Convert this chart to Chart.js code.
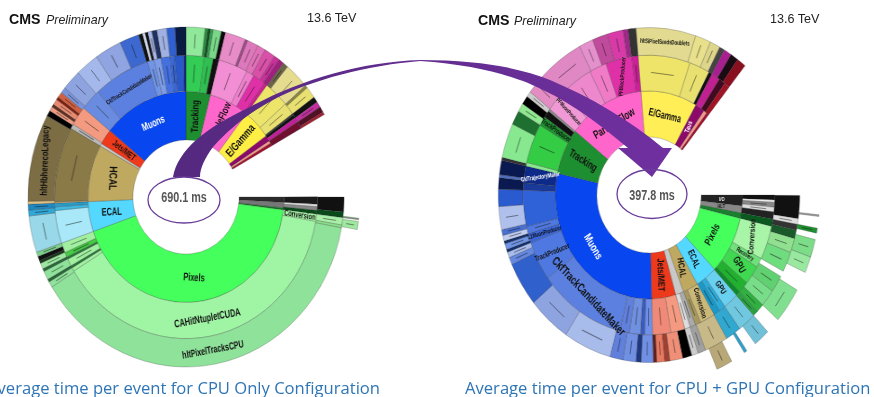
<!doctype html>
<html>
<head>
<meta charset="utf-8">
<title>CMS HLT timing</title>
<script src="https://cdn.jsdelivr.net/npm/chart.js@4"></script>
<style>
  html, body { margin:0; padding:0; background:#fff; width:874px; height:397px; overflow:hidden; }
  canvas { position:absolute; top:0; filter:blur(.45px); }
  #cpu { left:-14px; top:-3px; transform:scaleX(.93); }
  #gpu { left:449px; top:-5px; transform:scaleX(.9); }
  svg { position:absolute; left:0; top:0; }
  .cms { font:bold 14.2px "Liberation Sans"; fill:#111; }
  .prelim { font:italic 12.4px "Liberation Sans"; fill:#222; }
  .tev { font:12.6px "Liberation Sans"; fill:#222; }
  .total { font:bold 15px "Liberation Sans"; fill:#555; text-anchor:middle; }
  .caption { font:16.6px "Open Sans"; fill:#2e75b6; }
</style>
</head>
<body>
<canvas id="cpu" width="400" height="400"></canvas>
<canvas id="gpu" width="400" height="400"></canvas>
<svg width="874" height="397">
  <defs>
    <linearGradient id="arrowFill" x1="0" x2="1" y1="0" y2="0">
      <stop offset="0" stop-color="#55297f"/>
      <stop offset="1" stop-color="#7030a0"/>
    </linearGradient>
  </defs>
  <!-- annotation arrow between the two totals -->
  <path fill="url(#arrowFill)" d="M173,177 C178,150 205,128 250,107 C300,80 360,62 420,60 C480,60 520,68 550,80 C590,97 630,120 663,148 L672,148 L652,177 L618,148 L628,148 C600,125 575,105 543,90 C520,78 480,65 420,61 C370,65 310,80 273,100 C250,112 230,128 213,147 C205,158 200,168 200,177 Z"/>
  <ellipse cx="184" cy="200" rx="36" ry="23" fill="none" stroke="#6a3d9a" stroke-width="1.3"/>
  <ellipse cx="652" cy="194" rx="35" ry="24.5" fill="none" stroke="#6a3d9a" stroke-width="1.3"/>
  <text class="total" transform="translate(184,202) scale(.72,1)">690.1 ms</text>
  <text class="total" transform="translate(652,200) scale(.72,1)">397.8 ms</text>
  <text class="cms" x="9" y="24">CMS</text>
  <text class="prelim" x="46" y="24">Preliminary</text>
  <text class="tev" x="307" y="22">13.6 TeV</text>
  <text class="cms" x="478" y="25">CMS</text>
  <text class="prelim" x="514" y="25">Preliminary</text>
  <text class="tev" x="770" y="23">13.6 TeV</text>
  <text class="caption" x="380" y="394" text-anchor="end">Average time per event for CPU Only Configuration</text>
  <text class="caption" x="465" y="394">Average time per event for CPU + GPU Configuration</text>
</svg>
<script>
const GAP = 'transparent';

// CPU only, ms per module group, clockwise from 12 o'clock. Ring 1 is the innermost.
const cpuRing1 = [27.8,45.0,32.0,6.3,2.9,2.9,55.6,5.8,5.8,1.9,295.2,31.6,60.4,2.9,16.3,97.8];
const cpuRing1Colors = ['#1e8f30','#ff66cc','#ffee44','#8b0a6a','#f49a8a','#a01030',GAP,'#2a2a2a','#777777','#1a7a2a','#44ff5c','#55d8ff','#bfa860','#c8c8c8','#ee3a1c','#0846f0'];

const cpuRing2 = [15.3,7.7,4.8,24.9,6.7,10.5,2.9,21.1,9.6,1.3,2.5,3.8,5.8,55.6,5.8,1.9,2.9,2.9,5.8,265.5,2.9,1.9,5.8,1.9,3.8,7.7,25.9,2.9,2.9,1.0,59.4,3.8,15.3,17.3,47.9,5.8,5.8,7.7,3.8,7.7,1.9];
const cpuRing2Colors = ['#33cc55','#2fbf50','#111111','#f28fd4','#ee7fcc','#e030a8','#cc2090','#ede56a','#e8e070','#333333','#111111','#c0209a','#701030',GAP,'#1a1a1a','#dddddd','#888888','#0a4a1a','#a8f5a8','#a0f5a5','#a0f0a0','#2a7a3a','#a0f0a0','#2a7a3a','#44cc44','#a0f0a0','#a8e8f8','#40b8e0','#2a9cc8','#d0b070','#8a7a48','#b8b8b8','#f49a80','#6a8ce0','#5c80e0','#7094e6','#7c9ce8','#4470e0','#3868d8','#2a58c8','#0e2a80'];

const cpuRing3 = [13.4,1.9,1.9,1.9,5.8,2.9,14.4,1.9,7.7,5.8,7.7,3.8,3.8,3.8,17.3,1.9,7.7,3.8,3.8,3.8,1.9,55.6,9.6,3.8,4.8,1.9,263.6,3.8,1.9,5.8,1.9,3.8,1.9,2.9,2.9,24.0,3.8,3.8,1.9,57.5,3.8,2.9,1.9,3.8,1.9,3.8,3.8,13.4,16.5,18.8,13.8,2.7,1.9,1.9,2.9,3.6,6.9,5.8,7.7];
const cpuRing3Colors = ['#90e89a','#2a9040','#0e5020','#3aa050','#78d888','#0a0a0a','#e88cc8','#a04a88','#de78bc','#e070b8','#d850a8','#c8309a','#a02080','#6a6448','#e5dc90','#8a8440','#e8e070','#111111','#c030a0','#501025','#a02030',GAP,'#111111','#0a4a1a','#a8f0a8','#88dd88','#8fe29a','#8fe29a','#2a6a3a','#8fe29a','#2a6a3a','#9ce8a0','#1a3a1a','#111111','#7cd08c','#98d8e8','#30a8d8','#2088c0','#e0c080','#7d6d45','#000000','#f09a80','#603020','#e88a70','#802010','#d06040','#7a94dc','#8ea4e0','#a4b8ec','#8fa4e0','#3c68d0','#111111','#cfd8f0','#111111','#aab8e8','#203060','#a0b0e0','#3060d0','#0a1a40'];

const cpuRing4 = [185.0,1.0,1.0,4.8,498.4];
const cpuRing4Colors = [GAP,'#7a9c7a',GAP,'#9fe89f',GAP];

// CPU + GPU, ms per module group, clockwise from E/Gamma
const gpuRing1 = [38.7,6.6,2.2,1.7,55.8,6.6,4.4,3.3,36.1,14.7,10.5,5.5,16.5,114.5,28.7,51.9];
const gpuRing1Colors = ['#ffee55','#8b0a6a','#f49a8a','#a01030',GAP,'#222222','#888888','#1a8030','#44ff5c','#55d8ff','#bfa860','#c8c8c8','#ee3a1c','#0846f0','#1e8f30','#ff66cc'];

const gpuRing2 = [26.5,10.5,1.7,4.4,3.3,2.8,55.8,2.2,1.1,2.2,2.2,3.3,3.3,15.5,4.4,8.8,5.5,2.2,7.7,3.3,3.3,7.7,2.8,2.8,2.8,7.2,9.3,4.0,2.2,5.5,4.9,44.4,18.1,4.4,3.3,16.6,3.3,7.7,1.7,18.2,4.4,3.3,1.1,11.1,15.5,8.8,13.3,3.3];
const gpuRing2Colors = ['#eee46a','#e8e070','#111111','#c02090','#400a20','#a01525',GAP,'#111111','#eeeeee','#888888','#dddddd','#222222','#0a5a20','#a8f5a8','#6fe07a','#40d850','#22b030','#0f8a2a','#6ad0f0','#2eaad8','#1a98c8','#c9b878','#a89860','#aaaaaa','#dddddd','#f49a80','#f08a78','#6e90e8','#3a5cc0','#7090e0','#6080dc','#5c80e0','#4f78e0','#3a66d8','#4f78e0','#2f62d8','#1a3a9a','#0e2a88','#88e890','#33cc44','#1e9030','#111111','#888888','#f099d4','#ee88cc','#f07cc8','#e030a8','#cc2098'];

const gpuRing3 = [25.4,6.6,4.4,2.2,3.3,3.3,3.9,55.8,8.8,2.2,2.2,3.3,5.5,7.7,2.2,6.6,6.6,3.3,2.2,7.7,6.6,9.9,3.3,2.8,3.9,5.5,2.2,3.3,1.5,5.1,2.2,5.5,5.5,20.4,18.2,17.1,2.8,2.2,1.1,2.2,1.1,2.2,2.2,8.8,6.6,4.4,1.1,5.5,1.1,13.3,5.5,3.3,3.3,2.2,7.7,19.4,6.0,6.6,6.6,2.2,3.3];
const gpuRing3Colors = ['#e2da90','#e8e08a','#ddd58a','#444444','#a82090','#1a0a12','#8a1020',GAP,'#111111','#dddddd','#333333','#1a5a2a','#90e090','#70dc80',GAP,'#60d070','#78dd88','#30b040','#2aa040','#70c8e0','#30a8d0','#c8ba88','#a0a0a0','#cccccc','#000000','#ef8f78','#a04030','#e87860','#602020','#7090e4','#203880','#7090e4','#6080dc','#a8bcec','#8ea4e0','#3060cc','#6488e0','#a8bcec','#14306c','#7094e6','#14306c','#c0ccf0','#4a70d0','#b0c0ec','#2a5ad0','#0a1a50','#5070c0','#0a1a50','#333333','#88e890','#1e7030','#90e890','#000000','#cccccc','#e48cc4','#e088c4','#e490cc','#c04a9c','#d83aa8','#a02888','#333333'];

const gpuRing4 = [111.6,0.6,3.9,1.7,2.2,6.1,5.5,6.6,12.2,5.5,6.1,3.9,1.1,5.5,6.1,219.3];
const gpuRing4Colors = [GAP,'#999999',GAP,'#1e9030',GAP,'#7cdc88','#98e8a0',GAP,'#80e090',GAP,'#70c0d8',GAP,'#30a0c8',GAP,'#b8a878',GAP];

// sector captions: ring, sector index in that ring, text, rotation in degrees, size, colour
const cpuLabels = [
  [1,15,'Muons',-22,11,'#fff'], [1,0,'Tracking',-88,11,'#111'], [1,1,'ParticleFlow',-65,11,'#111'],
  [1,2,'E/Gamma',-47,12,'#111'], [1,14,'Jets/MET',36,9,'#111'], [1,12,'HCAL',92,12,'#111'],
  [1,11,'ECAL',-3,11,'#111'], [1,10,'Pixels',3,11,'#111'],
  [2,19,'CAHitNtupletCUDA',-10,11,'#111'], [2,18,'Conversion',8,8.5,'#111'], [2,34,'CkfTrackCandidateMaker',-30,6.5,'#111'],
  [3,26,'hltPixelTracksCPU',-10,10.5,'#111'], [3,39,'hltHbherecoLegacy',-88,10.5,'#111']
];
const gpuLabels = [
  [1,13,'Muons',58,12,'#fff'], [1,14,'Tracking',30,11.5,'#111'], [1,15,'ParticleFlow',-30,12,'#111'],
  [1,0,'E/Gamma',12,11,'#111'], [1,1,'Taus',-70,7.5,'#fff'], [1,12,'Jets/MET',88,10.5,'#111'],
  [1,10,'HCAL',80,10,'#111'], [1,9,'ECAL',65,10,'#111'], [1,8,'Pixels',-60,11,'#111'],
  [1,5,'I/O',0,6,'#fff'], [1,6,'HLT',0,6,'#111'],
  [2,13,'Conversion',-85,9,'#111'], [2,14,'Recovery',30,6.5,'#111'], [2,15,'GPU',60,11,'#111'], [2,18,'GPU',55,9,'#111'],
  [2,21,'Conversion',72,8,'#111'], [2,31,'CkfTrackCandidateMaker',44,12.5,'#111'], [2,32,'TrackProducer',-20,8,'#111'],
  [2,33,'L1MuonProducer',-15,6.5,'#111'], [2,37,'CkfTrajectoryMaker',-8,6.5,'#fff'], [2,40,'TrackProducer',33,7.5,'#111'],
  [2,46,'PFBlockProducer',-85,6.5,'#111'], [2,43,'PFMuonProducer',45,6,'#111'],
  [3,0,'hltSiPixelSeedsDoublets',3,6.5,'#111']
];

function isLight(hex) {
  const n = parseInt(hex.slice(1), 16);
  return (n >> 16) * .3 + ((n >> 8) & 255) * .6 + (n & 255) * .1 > 95;
}

// puts the captions on the arcs, and the unreadable small module names as short dark strokes
const sectorText = {
  id: 'sectorText',
  afterDatasetsDraw(chart, _args, opts) {
    const { ctx } = chart;
    const ringCount = chart.data.datasets.length;
    const labelled = new Set(opts.labels.map(l => l[0] + ':' + l[1]));
    const arcOf = (ring, i) => chart.getDatasetMeta(ringCount - ring).data[i];

    for (let ring = 2; ring <= ringCount; ring++) {
      const colors = chart.data.datasets[ringCount - ring].backgroundColor;
      colors.forEach((c, i) => {
        if (c === GAP || !isLight(c) || labelled.has(ring + ':' + i)) return;
        const a = arcOf(ring, i);
        const mid = (a.startAngle + a.endAngle) / 2;
        const r = (a.innerRadius + a.outerRadius) / 2;
        const along = (a.endAngle - a.startAngle) * r;
        const thick = a.outerRadius - a.innerRadius;
        if (along < 3.5 || thick < 12) return;
        const p = a.getCenterPoint();
        const wide = along > thick;
        const len = Math.min((wide ? along : thick) * .5, 26);
        ctx.save();
        ctx.translate(p.x, p.y);
        ctx.rotate(wide ? mid + Math.PI / 2 : mid);
        ctx.strokeStyle = 'rgba(20,20,20,.5)';
        ctx.lineWidth = .9;
        ctx.beginPath();
        ctx.moveTo(-len / 2, 0);
        ctx.lineTo(len / 2, 0);
        ctx.stroke();
        ctx.restore();
      });
    }

    opts.labels.forEach(([ring, i, text, rot, size, color]) => {
      const p = arcOf(ring, i).getCenterPoint();
      ctx.save();
      ctx.translate(p.x, p.y);
      ctx.rotate(rot * Math.PI / 180);
      ctx.scale(.72, 1); // Impact-like narrow lettering, no narrow bold font here
      ctx.font = `bold ${size}px "Liberation Sans"`;
      ctx.fillStyle = color;
      ctx.textAlign = 'center';
      ctx.textBaseline = 'middle';
      ctx.fillText(text, 0, 0);
      ctx.restore();
    });
  }
};

function sunburst(id, rings, ringColors, weights, outer, rotation, labels) {
  // Chart.js puts the first dataset on the outside
  const datasets = rings.map((data, i) => ({
    data,
    weight: weights[i],
    backgroundColor: ringColors[i],
    borderColor: ringColors[i].map(c => c === GAP ? GAP : 'rgba(40,40,40,.4)'),
    borderWidth: .6
  })).reverse();
  new Chart(document.getElementById(id), {
    type: 'doughnut',
    data: { labels: [], datasets },
    options: {
      responsive: false,
      animation: false,
      devicePixelRatio: 1,
      radius: outer,
      cutout: 61,
      rotation,
      layout: { padding: 0 },
      plugins: { legend: { display: false }, tooltip: { enabled: false }, sectorText: { labels } }
    },
    plugins: [sectorText]
  });
}

sunburst('cpu',
  [cpuRing1, cpuRing2, cpuRing3, cpuRing4],
  [cpuRing1Colors, cpuRing2Colors, cpuRing3Colors, cpuRing4Colors],
  [47, 35, 27.5, 16.5], 187, 0, cpuLabels);

sunburst('gpu',
  [gpuRing1, gpuRing2, gpuRing3, gpuRing4],
  [gpuRing1Colors, gpuRing2Colors, gpuRing3Colors, gpuRing4Colors],
  [45, 35, 27, 22], 190, -5, gpuLabels);
</script>
</body>
</html>
